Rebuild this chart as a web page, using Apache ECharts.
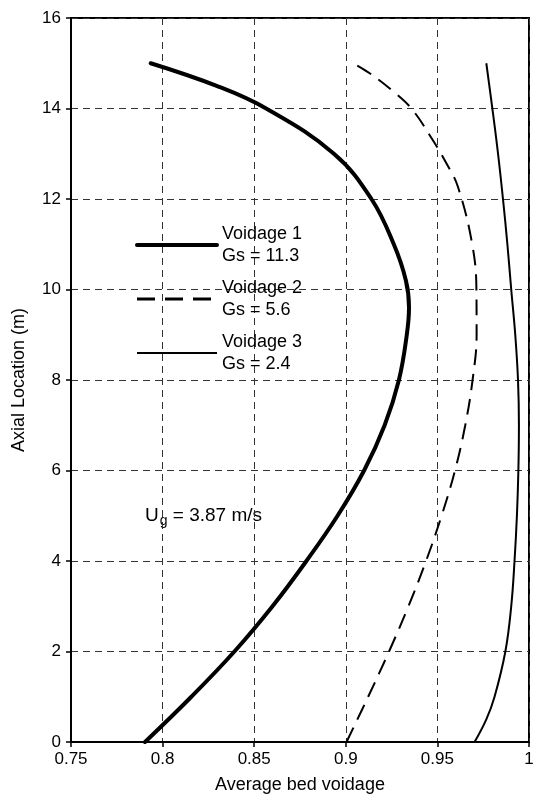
<!DOCTYPE html>
<html>
<head>
<meta charset="utf-8">
<script src="https://cdn.jsdelivr.net/npm/echarts@6/dist/echarts.min.js"></script>
<style>
    html, body { margin: 0; padding: 0; background: #fff; }
    #chart { width: 536px; height: 795px; }
</style>
</head>
<body>
<div id="chart"></div>
<script>
// Data: [voidage, axial location (m)]
var seriesNames = ['Voidage 1', 'Voidage 2', 'Voidage 3'];
var solidsFlux = ['11.3', '5.6', '2.4'];

var voidage1 = [
    [0.7904, 0], [0.8157, 1], [0.8392, 2], [0.86, 3], [0.8785, 4],
    [0.8955, 5], [0.91, 6], [0.9212, 7], [0.929, 8], [0.9333, 9],
    [0.9345, 9.6], [0.9328, 10.2], [0.9262, 11], [0.914, 12],
    [0.8935, 13], [0.8565, 14], [0.8295, 14.5], [0.7935, 15]
];
var voidage2 = [
    [0.9004, 0], [0.9122, 1], [0.9236, 2], [0.9342, 3], [0.9438, 4],
    [0.9523, 5], [0.9596, 6], [0.9652, 7], [0.9692, 8], [0.9714, 9],
    [0.9713, 10], [0.969, 11], [0.9612, 12.27], [0.9549, 12.79],
    [0.9458, 13.41], [0.9358, 14], [0.9261, 14.37], [0.913, 14.78], [0.904, 15]
];
var voidage3 = [
    [0.9703, 0], [0.9767, 0.5], [0.9812, 1], [0.9871, 2], [0.9903, 3],
    [0.9921, 4], [0.9934, 5], [0.9942, 6], [0.9945, 7], [0.994, 8],
    [0.9925, 9], [0.9903, 10], [0.9882, 11], [0.9858, 12], [0.9831, 13],
    [0.98, 14], [0.9767, 15]
];

var xAxisRange = [0.75, 1, 0.05];
var yAxisRange = [0, 16, 2];

var chart = echarts.init(document.getElementById('chart'), null, { renderer: 'canvas' });

var fontFamily = 'Arial, "Liberation Sans", sans-serif';

var gridLine = {
    show: true,
    lineStyle: { color: '#333', width: 1, type: [7, 5] }
};

var option = {
    animation: false,
    backgroundColor: '#fff',
    textStyle: { fontFamily: fontFamily, color: '#000' },

    grid: {
        left: 71, right: 7, top: 18, bottom: 53,
        outerBoundsMode: 'none',
        containLabel: false,
        show: true,
        borderColor: '#000',
        borderWidth: 2,
        backgroundColor: 'transparent'
    },

    // Legend sits inside the plot, two text lines per entry
    legend: {
        orient: 'vertical',
        left: 135,
        top: 223,
        padding: 0,
        itemWidth: 80,
        itemHeight: 14,
        itemGap: 10,
        itemStyle: { color: 'transparent', borderWidth: 0, opacity: 0 },
        data: [
            { name: seriesNames[0], lineStyle: { width: 4, color: '#000', type: 'solid', cap: 'round' } },
            { name: seriesNames[1], lineStyle: { width: 3, color: '#000', type: [18, 10] } },
            { name: seriesNames[2], lineStyle: { width: 2, color: '#000', type: 'solid' } }
        ],
        textStyle: { color: '#000', fontSize: 18, lineHeight: 22 },
        formatter: function (name) {
            return name + '\nGs = ' + solidsFlux[seriesNames.indexOf(name)];
        }
    },

    xAxis: {
        type: 'value',
        min: xAxisRange[0],
        max: xAxisRange[1],
        interval: xAxisRange[2],
        name: 'Average bed voidage',
        nameLocation: 'middle',
        nameGap: 34,
        nameTextStyle: { fontSize: 18, color: '#000' },
        axisLine: { show: true, onZero: false, lineStyle: { color: '#000', width: 2 } },
        axisTick: { show: true, inside: false, length: 5, lineStyle: { color: '#000', width: 1.5 } },
        axisLabel: { fontSize: 17, color: '#000', margin: 9 },
        splitLine: gridLine
    },

    yAxis: {
        type: 'value',
        min: yAxisRange[0],
        max: yAxisRange[1],
        interval: yAxisRange[2],
        name: 'Axial Location (m)',
        nameLocation: 'middle',
        nameGap: 43,
        nameTextStyle: { fontSize: 18, color: '#000' },
        axisLine: { show: true, onZero: false, lineStyle: { color: '#000', width: 2 } },
        axisTick: { show: true, inside: false, length: 5, lineStyle: { color: '#000', width: 1.5 } },
        axisLabel: { fontSize: 17, color: '#000', margin: 10 },
        splitLine: gridLine
    },

    graphic: [
        {
            type: 'text',
            left: 145,
            top: 502,
            style: {
                text: '{u|U}{s|g}{u| = 3.87 m/s}',
                rich: {
                    u: { fontSize: 19, lineHeight: 22, verticalAlign: 'top', fill: '#000', fontFamily: fontFamily },
                    s: { fontSize: 14, lineHeight: 14, padding: [12, 0, 0, 1], verticalAlign: 'bottom', fill: '#000', fontFamily: fontFamily }
                }
            }
        }
    ],

    series: [
        {
            name: seriesNames[0],
            type: 'line',
            data: voidage1,
            smooth: 0.4,
            symbol: 'none',
            lineStyle: { color: '#000', width: 4, cap: 'round' },
            itemStyle: { color: '#000' }
        },
        {
            name: seriesNames[1],
            type: 'line',
            data: voidage2,
            smooth: 0.4,
            symbol: 'none',
            lineStyle: { color: '#000', width: 2, type: [16, 9] },
            itemStyle: { color: '#000' }
        },
        {
            name: seriesNames[2],
            type: 'line',
            data: voidage3,
            smooth: 0.4,
            symbol: 'none',
            lineStyle: { color: '#000', width: 2 },
            itemStyle: { color: '#000' }
        }
    ]
};

chart.setOption(option);
</script>
</body>
</html>
